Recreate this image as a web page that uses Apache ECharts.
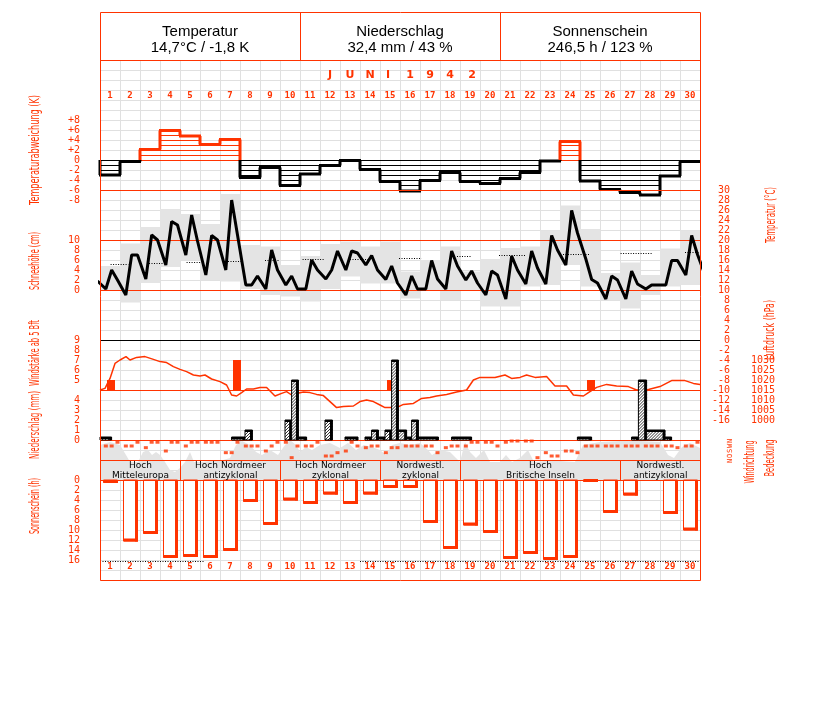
<!DOCTYPE html>
<html><head><meta charset="utf-8">
<script src="https://cdn.jsdelivr.net/npm/echarts@6/dist/echarts.min.js"></script>
<style>html,body{margin:0;padding:0;background:#fff}#c{width:827px;height:702px}</style>
</head><body><div id="c"></div>
<script>
// ---------------- DATA ----------------
const days = [1,2,3,4,5,6,7,8,9,10,11,12,13,14,15,16,17,18,19,20,21,22,23,24,25,26,27,28,29,30];
const headerTitles = ['Temperatur','Niederschlag','Sonnenschein'];
const headerValues = ['14,7°C / -1,8 K','32,4 mm / 43 %','246,5 h / 123 %'];
const monthTitle = ['J','U','N','I','1','9','4','2'];

// daily temperature deviation (K)
const devK = [-3.0,-0.3,2.1,5.9,4.8,3.1,4.1,-3.5,-1.5,-5.1,-2.8,-1.1,-0.1,-1.9,-4.3,-6.2,-4.1,-2.5,-4.3,-4.7,-3.7,-2.5,-0.2,3.7,-4.2,-5.9,-6.5,-7.0,-3.2,-0.3];
// temperature readings 7h,14h,21h (°C)
const t07 = [10.2,9,12.2,15,17,13,14,11,10.2,11,10.2,12.2,14,15,12.1,9,10.2,10.2,12,9,8.2,11.2,11.2,15,16.2,8.2,8.2,10.2,11,13];
const t14 = [14,17,21,23.7,25,20.9,28,11,18,12.8,16,14,17.8,16.9,14.8,12.8,15.9,17.8,13.8,13.8,16.8,17.8,20.9,25.9,12.1,12.8,13.8,11,15.9,20.9];
const t21 = [12,17,20,23,19.8,20,21,12.8,14,10.2,14,17.8,17.4,14,11.4,10.2,12.2,14.8,11.4,13,14,14.4,18,21.4,11.4,12,11.2,11,15.9,17.1];
const tempBefore = 11.8, tempAfter = 12.6;
// daily min / max (°C)
const tMin = [10,7.5,11.4,14.6,16,12,11.7,10.2,9,8.7,7.7,10.2,12.7,11.3,11.3,8.3,10,8,10,6.7,6.7,10.7,11,15,10.7,8,6.3,9,10.7,11];
const tMax = [14.8,19.3,22.6,26.2,25.2,23.2,29.2,19,18.7,15,16.8,19.2,19.7,18.7,19.7,13.7,16,18.7,13.7,16.2,18.4,18.7,21.9,26.9,22.2,13.4,15.5,13,18.3,21.9];
// long-term mean (dotted pieces): start day, end day, °C
const normStart = [0.53,2.45,4.33,6.4,8.25,10.13,12.5,14.95,17.85,19.95,23.15,26.03,29.25];
const normEnd   = [1.42,3.25,5.08,7.15,9.0,11.2,13.4,16.08,18.58,21.3,24.5,27.58,30];
const normVal   = [15.2,15.5,15.7,15.8,16.0,16.2,16.3,16.5,16.8,17.0,17.2,17.5,17.6];

// wind >= 5 Bft
const windT = [0.55,6.85,14.55,24.55];
const windBft = [5,7,5,5];

// air pressure (hPa)
const pressT = [0,0.25,0.5,0.75,1.0,1.3,1.5,1.83,2.25,2.67,3.0,3.33,3.67,4.0,4.33,4.67,5.0,5.25,5.58,6.0,6.33,6.58,6.83,7.08,7.33,7.67,8.0,8.33,8.75,9.08,9.33,9.58,9.83,10.17,10.5,10.83,11.17,11.5,11.83,12.17,12.67,13.0,13.33,13.67,14.0,14.25,14.83,15.17,15.67,16.08,16.5,16.83,17.33,17.83,18.33,18.67,19.0,19.42,19.75,20.25,20.58,21.0,21.33,21.75,22.33,22.75,23.33,23.67,24.17,24.42,24.83,25.33,25.83,26.42,26.83,27.42,28.0,28.58,29.25,29.67,30.0];
const pressHPa = [1015,1015.8,1020.8,1028.3,1030,1031.7,1030,1031.3,1031.7,1030.3,1029.2,1028.7,1026.7,1025.3,1024.2,1022.5,1022,1022.5,1020.5,1019.2,1017.5,1012.5,1012,1013.7,1015.5,1015.5,1016.2,1016.3,1012,1013.3,1014.2,1012.5,1013.3,1014,1013.7,1012.8,1012.2,1009.2,1006.2,1006.7,1007,1009.2,1010,1009.2,1007.5,1006.2,1006.2,1007.8,1008.3,1010.8,1011.3,1012,1012.8,1014,1015,1020,1021.3,1021.3,1021.2,1022.5,1020.8,1021.3,1022.5,1021.3,1021.7,1017,1017,1012.5,1012,1013.7,1016.3,1017.8,1017,1016.7,1015,1015.3,1016.7,1019.7,1019.7,1018.3,1017.8];

// precipitation pieces: start, end (day), mm
const precStart = [0,6.58,7.25,9.25,9.58,9.92,11.25,12.25,13.25,13.58,13.92,14.25,14.58,14.92,15.33,15.58,15.92,17.58,23.87,26.58,26.92,27.33,28.25];
const precEnd   = [0.58,7.25,7.62,9.58,9.92,10.33,11.62,12.9,13.58,13.92,14.25,14.58,14.92,15.33,15.58,15.92,16.92,18.58,24.58,26.92,27.33,28.25,28.58];
const precMM    = [0.3,0.3,1,2,6,0.3,2,0.3,0.3,1,0.3,1,8,1,0.3,2,0.3,0.3,0.3,0.3,6,1,0.3];

// wind direction (deg) at 7h,14h,21h
const windDir = [270,270,338, 270,270,338, 240,338,338, 180,338,338, 270,338,338, 338,338,338, 150,150,338, 270,270,270, 180,270,338, 338,60,270,
                 270,270,338, 90,90,150, 180,338,270, 240,270,270, 150,240,240, 270,270,270, 270,270,150, 240,270,270, 270,338,338, 338,338,270,
                 338,360,360, 360,360,60, 150,90,90, 180,180,150, 270,270,270, 270,270,270, 270,270,270, 270,270,270, 270,270,240, 270,270,338];
const readHours = [7,14,21];

// cloud cover (octas)
const cloudT = [0,0.5,1.0,1.3,1.5,1.9,2.15,2.4,2.6,2.8,3.0,3.25,3.5,3.75,4.0,4.25,4.5,4.7,5.0,5.5,6.0,6.5,6.8,7.1,7.5,7.8,8.1,8.5,8.9,9.25,9.5,9.8,10.0,10.3,10.6,11.0,11.5,12.0,12.4,12.8,13.2,13.6,14.0,14.3,14.6,15.0,15.5,16.0,16.4,16.6,17.0,17.5,17.8,18.0,18.25,18.5,18.8,19.2,19.5,20.0,20.3,20.6,21.0,21.4,21.7,22.25,23.0,23.75,24.15,25.0,26.0,27.0,28.0,28.4,28.7,29.1,29.5,30.0];
const cloudOct = [7,7.6,7,5,3.6,3.6,5.6,6,5,5.6,5,3.6,2,1.6,2.4,3.6,5.6,3.6,3.6,3.8,3.8,4.4,7,7.8,7,5.6,5,6,5,7,8,7,5.6,6.6,6,7,7.4,6.4,7.4,6,7,6.6,6,5,7,7.4,7,7.4,6,5,6,5.6,4.4,3.6,7.6,5.6,4.4,6,3.6,3.6,5,3.6,4.4,6,3.6,3.8,3.8,3.6,7,7.6,7.8,7.8,7.6,5,4.4,6.6,7.4,6.4];

// weather situations
const wxStart = [0,4,9,14,18,26];
const wxEnd   = [4,9,14,18,26,30];
const wxLabel = ['Hoch\nMitteleuropa','Hoch Nordmeer\nantizyklonal','Hoch Nordmeer\nzyklonal','Nordwestl.\nzyklonal','Hoch\nBritische Inseln','Nordwestl.\nantizyklonal'];

// sunshine hours
const sun = [0.5,12.2,10.7,15.5,15.3,15.5,14.1,4.3,8.9,4.0,4.7,2.8,4.7,2.8,1.5,1.5,8.5,13.7,9.0,10.5,15.7,14.7,15.9,15.5,0.3,6.5,3.0,0,6.7,10.0];

// dotted marks along bottom
const bottomDotStart = [0,13];
const bottomDotEnd = [5.25,30];

// tick labels
const tempTicks = [30,28,26,24,22,20,18,16,14,12,10,8,6,4,2,0,-2,-4,-6,-8,-10,-12,-14,-16];
const devTicks = [8,6,4,2,0,-2,-4,-6,-8];
const snowTicks = [10,8,6,4,2,0];
const bftTicks = [9,8,7,6,5];
const precTicks = [4,3,2,1,0];
const sunTicks = [0,2,4,6,8,10,12,14,16];
const pressTicks = [1030,1025,1020,1015,1010,1005,1000];
const dirTicks = [0,90,180,270,360];
const dirNames = ['N','O','S','W','N'];
// reference lines on the temperature scale
const refVals = [30,20,10,0,-10,-20,-24,-28];
const refCols = ['r','r','r','k','r','r','r','r'];

const axisNames = [
  {text:'Temperaturabweichung (K)', x:35, y:150, len:110},
  {text:'Schneehöhe (cm)', x:35, y:261, len:58},
  {text:'Windstärke ab 5 Bft', x:35, y:353, len:66},
  {text:'Niederschlag (mm)', x:35, y:425, len:68},
  {text:'Sonnenschein (h)', x:35, y:506, len:56},
  {text:'Temperatur (°C)', x:771, y:215, len:56},
  {text:'Luftdruck (hPa)', x:770, y:330, len:60},
  {text:'Windrichtung', x:750, y:462, len:43},
  {text:'Bedeckung', x:770, y:458, len:37}
];

// ---------------- CHART ----------------
const RED = '#ff3300';
const GRIDC = '#e0e0e0';
const MONO = '"DejaVu Sans Mono", monospace';
const NAMEFONT = '"DejaVu Sans Condensed","Liberation Sans Narrow","DejaVu Sans",sans-serif';

const chart = echarts.init(document.getElementById('c'), null, {renderer:'canvas'});

const tempData = [[-3/24, tempBefore]];
for (let i = 0; i < days.length; i++) {
  tempData.push([i + readHours[0]/24, t07[i]], [i + readHours[1]/24, t14[i]], [i + readHours[2]/24, t21[i]]);
}
tempData.push([30 + 7/24, tempAfter]);
const dirData = windDir.map((v, k) => [Math.floor(k/3) + readHours[k%3]/24, v]);

const meas = document.createElement('canvas').getContext('2d');
function nameEl(n) {
  const f = '14px ' + NAMEFONT;
  meas.font = f;
  const w = meas.measureText(n.text).width;
  return {type:'text', x:n.x, y:n.y, rotation:Math.PI/2, scaleX:n.len/w, scaleY:1, silent:true, z:50,
    style:{text:n.text, fill:RED, font:f, align:'center', verticalAlign:'middle', textAlign:'center', textVerticalAlign:'middle'}};
}

const graphic = [
  {type:'rect', shape:{x:100.5, y:12.5, width:600, height:568}, style:{fill:'none', stroke:RED, lineWidth:1}, z:100, silent:true},
  {type:'line', shape:{x1:100, y1:60.5, x2:700, y2:60.5}, style:{stroke:RED, lineWidth:1}, z:100, silent:true},
  {type:'line', shape:{x1:300.5, y1:12, x2:300.5, y2:60}, style:{stroke:RED, lineWidth:1}, z:100, silent:true},
  {type:'line', shape:{x1:500.5, y1:12, x2:500.5, y2:60}, style:{stroke:RED, lineWidth:1}, z:100, silent:true}
];
headerTitles.forEach((t, i) => {
  const cx = 200 + i*200;
  graphic.push({type:'text', x:cx, y:32, silent:true, z:100, style:{text:t, fill:'#000', font:'15px "Liberation Sans", Arial, sans-serif', align:'center', verticalAlign:'middle', textAlign:'center', textVerticalAlign:'middle'}});
  graphic.push({type:'text', x:cx, y:48, silent:true, z:100, style:{text:headerValues[i], fill:'#000', font:'15px "Liberation Sans", Arial, sans-serif', align:'center', verticalAlign:'middle', textAlign:'center', textVerticalAlign:'middle'}});
});
const titleX = [330,350,370,388,410,430,450,472];
monthTitle.forEach((ch, i) => {
  graphic.push({type:'text', x:titleX[i], y:75, silent:true, z:100, style:{text:ch, fill:RED, font:'bold 11px "DejaVu Sans", sans-serif', align:'center', verticalAlign:'middle', textAlign:'center', textVerticalAlign:'middle'}});
});
axisNames.forEach(n => graphic.push(nameEl(n)));

function yAx(pos, min, max, ticks, extra) {
  return Object.assign({
    type:'value', position:pos, min:min, max:max, scale:false,
    axisLine:{show:false}, axisTick:{show:false}, splitLine:{show:false},
    axisLabel:{customValues:ticks, color:RED, fontSize:10, fontFamily:MONO, margin:20, formatter:v => String(v)}
  }, extra || {});
}

const dayCenters = days.map(d => d - 0.5);

const option = {
  animation:false,
  backgroundColor:'#fff',
  graphic: graphic,
  grid:{left:100, right:127, top:60, bottom:122, show:false, containLabel:false},
  xAxis:[
    {type:'value', min:0, max:30, interval:1, position:'bottom',
     axisLine:{show:false}, axisTick:{show:false},
     splitLine:{show:true, lineStyle:{color:GRIDC, width:1}},
     axisLabel:{inside:true, margin:9, customValues:dayCenters, formatter:v => String(Math.round(v + 0.5)), color:RED, fontSize:9, fontFamily:MONO, fontWeight:'bold'}},
    {type:'value', min:0, max:30, interval:1, position:'top',
     axisLine:{show:false}, axisTick:{show:false}, splitLine:{show:false},
     axisLabel:{inside:true, margin:31, customValues:dayCenters, formatter:v => String(Math.round(v + 0.5)), color:RED, fontSize:9, fontFamily:MONO, fontWeight:'bold'}}
  ],
  yAxis:[
    // 0 temperature
    yAx('right', -48, 56, tempTicks, {interval:2, splitLine:{show:true, lineStyle:{color:GRIDC, width:1}},
      axisLabel:{customValues:tempTicks, color:RED, fontSize:10, fontFamily:MONO, margin:30, align:'right', formatter:v => String(v)}}),
    // 1 deviation
    yAx('left', -84, 20, devTicks, {axisLabel:{customValues:devTicks, color:RED, fontSize:10, fontFamily:MONO, margin:20, formatter:v => v > 0 ? '+' + v : String(v)}}),
    // 2 snow
    yAx('left', -58, 46, snowTicks),
    // 3 wind Bft
    yAx('left', -15, 37, bftTicks),
    // 4 precipitation
    yAx('left', -14, 38, precTicks),
    // 5 sunshine (downwards)
    yAx('left', -84, 20, sunTicks, {inverse:true}),
    // 6 pressure
    yAx('right', 920, 1180, pressTicks, {axisLabel:{customValues:pressTicks, color:RED, fontSize:10, fontFamily:MONO, margin:75, align:'right', formatter:v => String(v)}}),
    // 7 wind direction
    yAx('right', -2142, 7218, dirTicks, {axisLabel:{customValues:dirTicks, color:RED, fontSize:7, fontFamily:MONO, margin:27, rotate:90, formatter:v => dirNames[dirTicks.indexOf(v)]}}),
    // 8 cloud cover / weather boxes
    yAx('right', -20, 84, [], {axisLabel:{show:false}})
  ],
  series:[
    // cloud cover
    {type:'line', xAxisIndex:0, yAxisIndex:8, z:1, data:cloudT.map((t,i)=>[t, cloudOct[i]]), showSymbol:false, symbol:'none',
     lineStyle:{width:0, color:'#e4e4e4'}, areaStyle:{color:'#e4e4e4', opacity:1}, silent:true},
    // daily temperature range boxes
    {type:'custom', xAxisIndex:0, yAxisIndex:0, z:1, silent:true,
     data:days.map((d,i)=>[d, tMin[i], tMax[i]]), encode:{x:0, y:[1,2]},
     renderItem:(p, api) => {
       const d = api.value(0);
       const a = api.coord([d-1, api.value(2)]), b = api.coord([d, api.value(1)]);
       return {type:'rect', shape:{x:a[0], y:a[1], width:b[0]-a[0], height:b[1]-a[1]}, style:{fill:'#e4e4e4'}};
     }},
    // temperature deviation hatch
    {type:'custom', xAxisIndex:0, yAxisIndex:1, z:3, silent:true,
     data:devK.map((v,i)=>[days[i], v, i ? devK[i-1] : 0]), encode:{x:0, y:1},
     renderItem:(p, api) => {
       const d = api.value(0), v = api.value(1), pv = api.value(2);
       const xl = api.coord([d-1, 0])[0], xr = api.coord([d, 0])[0];
       const Y = k => api.coord([d, k])[1];
       const col = v >= 0 ? RED : '#000';
       const ch = [];
       const n = Math.floor(Math.abs(v) + 1e-9);
       for (let k = 0; k <= n; k++) {
         const y = Math.round(Y(v >= 0 ? k : -k)) + 0.5;
         ch.push({type:'line', shape:{x1:xl, y1:y, x2:xr, y2:y}, style:{stroke:col, lineWidth:1}});
       }
       ch.push({type:'line', shape:{x1:xl-1, y1:Y(v), x2:xr+1, y2:Y(v)}, style:{stroke:col, lineWidth:3}});
       const a = Math.min(pv, v), b = Math.max(pv, v);
       if (b > 0 && a < b) ch.push({type:'line', shape:{x1:xl, y1:Y(Math.max(a,0)), x2:xl, y2:Y(b)}, style:{stroke:RED, lineWidth:3}});
       if (a < 0 && a < b) ch.push({type:'line', shape:{x1:xl, y1:Y(a), x2:xl, y2:Y(Math.min(b,0))}, style:{stroke:'#000', lineWidth:3}});
       return {type:'group', children:ch};
     }},
    // reference lines
    {type:'custom', xAxisIndex:0, yAxisIndex:0, z:4, silent:true,
     data:refVals.map((v,i)=>[0, v, i]), encode:{x:0, y:1},
     renderItem:(p, api) => {
       const v = api.value(1);
       const a = api.coord([0, v]), b = api.coord([30, v]);
       const y = Math.round(a[1]) + 0.5;
       return {type:'line', shape:{x1:a[0], y1:y, x2:b[0], y2:y}, style:{stroke:refCols[p.dataIndex] === 'k' ? '#000' : RED, lineWidth:1}};
     }},
    // long-term mean dotted
    {type:'custom', xAxisIndex:0, yAxisIndex:0, z:5, silent:true,
     data:normVal.map((v,i)=>[normStart[i], normEnd[i], v]), encode:{x:[0,1], y:2},
     renderItem:(p, api) => {
       const a = api.coord([api.value(0), api.value(2)]), b = api.coord([api.value(1), api.value(2)]);
       const y = Math.round(a[1]) + 0.5;
       return {type:'line', shape:{x1:a[0], y1:y, x2:b[0], y2:y}, style:{stroke:'#000', lineWidth:1, lineDash:[1,1.5]}};
     }},
    // temperature curve
    {type:'line', xAxisIndex:0, yAxisIndex:0, z:6, data:tempData, showSymbol:false, symbol:'none', silent:true,
     lineStyle:{color:'#000', width:3}},
    // wind bars
    {type:'custom', xAxisIndex:0, yAxisIndex:3, z:5, silent:true,
     data:windT.map((t,i)=>[t, windBft[i]]), encode:{x:0, y:1},
     renderItem:(p, api) => {
       const a = api.coord([api.value(0), api.value(1)]), b = api.coord([api.value(0), 4]);
       return {type:'rect', shape:{x:a[0]-4, y:a[1], width:8, height:b[1]-a[1]}, style:{fill:RED}};
     }},
    // pressure
    {type:'line', xAxisIndex:0, yAxisIndex:6, z:6, data:pressT.map((t,i)=>[t, pressHPa[i]]), showSymbol:false, symbol:'none', silent:true,
     lineStyle:{color:RED, width:1.5}},
    // precipitation bars
    {type:'custom', xAxisIndex:0, yAxisIndex:4, z:7, silent:true,
     data:precMM.map((v,i)=>[precStart[i], precEnd[i], v]), encode:{x:[0,1], y:2},
     renderItem:(p, api) => {
       const s = api.value(0), e = api.value(1), v = api.value(2);
       const A = api.coord([s, 0]), B = api.coord([e, v]);
       const x0 = A[0], yb = A[1], x1 = B[0], yt = B[1];
       const ch = [{type:'rect', shape:{x:x0, y:yt, width:x1-x0, height:yb-yt}, style:{fill:'#fff', stroke:'#000', lineWidth:1}}];
       for (let c = x0 + yt + 2; c < x1 + yb; c += 3) {
         const xa = Math.max(x0, c - yb), xb = Math.min(x1, c - yt);
         if (xb > xa) ch.push({type:'line', shape:{x1:xa, y1:c-xa, x2:xb, y2:c-xb}, style:{stroke:'#000', lineWidth:0.8}});
       }
       ch.push({type:'line', shape:{x1:x1-1.2, y1:yt, x2:x1-1.2, y2:yb}, style:{stroke:'#000', lineWidth:2.5}});
       ch.push({type:'line', shape:{x1:x0, y1:yt+1, x2:x1, y2:yt+1}, style:{stroke:'#000', lineWidth:2}});
       return {type:'group', children:ch};
     }},
    // wind direction squares
    {type:'scatter', xAxisIndex:0, yAxisIndex:7, z:8, data:dirData, symbol:'rect', symbolSize:[4,3], silent:true,
     itemStyle:{color:RED}},
    // weather situation boxes
    {type:'custom', xAxisIndex:0, yAxisIndex:8, z:8, silent:true,
     data:wxStart.map((s,i)=>[s, wxEnd[i]]), encode:{x:[0,1]},
     renderItem:(p, api) => {
       const a = api.coord([api.value(0), 4]), b = api.coord([api.value(1), 0]);
       const x0 = Math.round(a[0]) + 0.5, x1 = Math.round(b[0]) + 0.5;
       return {type:'group', children:[
         {type:'rect', shape:{x:x0, y:Math.round(a[1])+0.5, width:x1-x0, height:Math.round(b[1]-a[1])}, style:{fill:'none', stroke:RED, lineWidth:1}},
         {type:'text', x:(x0+x1)/2, y:(a[1]+b[1])/2 + 0.5, style:{text:wxLabel[p.dataIndex], fill:'#000', font:'9px "DejaVu Sans", sans-serif', lineHeight:10,
           align:'center', verticalAlign:'middle', textAlign:'center', textVerticalAlign:'middle'}}
       ]};
     }},
    // sunshine bars
    {type:'custom', xAxisIndex:0, yAxisIndex:5, z:7, silent:true,
     data:sun.map((v,i)=>[days[i], v]), encode:{x:0, y:1},
     renderItem:(p, api) => {
       const d = api.value(0), v = api.value(1);
       if (!v) return null;
       const A = api.coord([d - 0.5 - 1/3, 0]), B = api.coord([d - 0.5 + 1/3, v]);
       const x0 = Math.round(A[0]) + 0.5, x1 = Math.round(B[0]) + 0.5, y0 = A[1], y1 = B[1];
       return {type:'group', children:[
         {type:'rect', shape:{x:x0, y:y0, width:x1-x0, height:y1-y0}, style:{fill:'#fff', stroke:RED, lineWidth:1}},
         {type:'line', shape:{x1:x1-1, y1:y0, x2:x1-1, y2:y1+0.5}, style:{stroke:RED, lineWidth:3}},
         {type:'line', shape:{x1:x0, y1:y1-1, x2:x1+0.5, y2:y1-1}, style:{stroke:RED, lineWidth:3}}
       ]};
     }},
    // bottom dotted marks
    {type:'custom', xAxisIndex:0, yAxisIndex:5, z:7, silent:true,
     data:bottomDotStart.map((s,i)=>[s, bottomDotEnd[i]]), encode:{x:[0,1]},
     renderItem:(p, api) => {
       const a = api.coord([api.value(0), 16.2]), b = api.coord([api.value(1), 16.2]);
       const y = Math.round(a[1]) + 0.5;
       return {type:'line', shape:{x1:a[0], y1:y, x2:b[0], y2:y}, style:{stroke:'#000', lineWidth:1, lineDash:[1,1.5]}};
     }}
  ]
};
chart.setOption(option);
</script>
</body></html>
